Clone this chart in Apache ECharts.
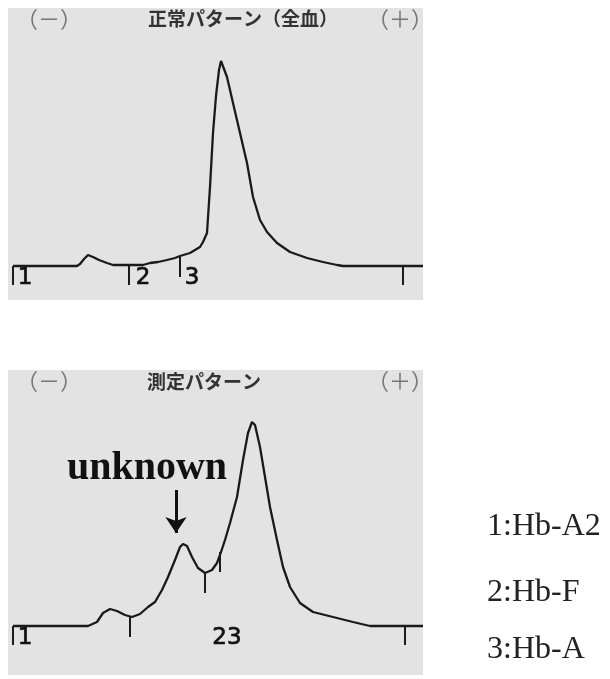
<!DOCTYPE html>
<html><head><meta charset="utf-8">
<script src="https://cdn.jsdelivr.net/npm/echarts@6/dist/echarts.min.js"></script>
<style>html,body{margin:0;padding:0;background:#fff}#c{width:610px;height:679px}</style>
</head><body><div id="c"></div>
<script>
// Normal pattern (whole blood): [position, signal]
var normalTrace = [[5,0],[69,0],[72,2],[76,7],[80,11],[85,9],[91,6],[99,3],[105,1],[112,1],[125,1],[135,1],[142,3],[150,4],[159,6],[167,8],[172,10],[182,13],[192,19],[195,24],[199,33],[202,79],[205,133],[208,170],[211,196],[213,205],[215,203],[219,189],[225,163],[232,133],[239,103],[245,69],[252,46],[259,34],[269,23],[282,14],[299,8],[315,4],[329,1],[335,0],[415,0]];
// Measured pattern: [position, signal]
var measuredTrace = [[5,0],[80,0],[89,4],[95,13],[102,17],[109,15],[117,11],[124,9],[132,12],[140,19],[147,24],[154,36],[160,49],[167,66],[172,79],[175,82],[179,80],[184,69],[190,58],[197,53],[204,56],[209,63],[212,71],[217,86],[222,103],[229,129],[235,166],[240,193],[244,204],[247,201],[252,179],[257,149],[262,119],[269,86],[275,59],[282,39],[292,23],[305,14],[325,9],[345,4],[362,0],[415,0]];
// Fraction boundary ticks: [position, from, to]
var normalTicks = [[5,0,-19],[121,1,-19],[172,9,-11],[395,0,-19]];
var measuredTicks = [[5,0,-19],[122,9,-11],[197,53,33],[212,74,54],[397,0,-19]];
// Fraction numbers: [text, position, level]
var normalNums = [['1',17,-12],['2',135,-12],['3',184,-12]];
var measuredNums = [['1',17,-12],['23',219,-12]];
var normalTitle = '正常パターン（全血）';
var measuredTitle = '測定パターン';
var polarity = ['（－）','（＋）'];
var arrowFromTo = [[168,136],[168,93]];
var annotation = 'unknown';
var legendItems = ['1:Hb-A2','2:Hb-F','3:Hb-A'];

var chart = echarts.init(document.getElementById('c'));
var ink = '#1a1a1a';
var bg = '#e3e3e3';
function numSeries(nums, gi){
  return {type:'scatter', xAxisIndex:gi, yAxisIndex:gi, symbolSize:1, silent:true,
    itemStyle:{opacity:0},
    data: nums.map(function(n){return {value:[n[1],n[2]], name:n[0]};}),
    label:{show:true, position:'inside', formatter:'{b}', color:'#111', opacity:1,
      fontFamily:'DejaVu Sans', fontSize:23, textBorderColor:'#111', textBorderWidth:0.7}};
}
function tickSeries(t, gi){
  return {type:'lines', coordinateSystem:'cartesian2d', xAxisIndex:gi, yAxisIndex:gi, silent:true,
    lineStyle:{color:ink, width:2, opacity:1},
    data: t.map(function(k){return {coords:[[k[0],k[1]],[k[0],k[2]]]};})};
}
var legendGraphics = legendItems.map(function(s,i){
  return {type:'text', left:487, top:[511,577,634][i], style:{text:s, fill:'#222', font:'32px "Liberation Serif"'}};
});
chart.setOption({
  animation:false,
  grid:[
    {left:8, top:8, width:415, height:292, show:true, backgroundColor:bg, borderWidth:0},
    {left:8, top:370, width:415, height:305, show:true, backgroundColor:bg, borderWidth:0}
  ],
  xAxis:[
    {type:'value', gridIndex:0, min:0, max:415, show:false},
    {type:'value', gridIndex:1, min:0, max:415, show:false}
  ],
  yAxis:[
    {type:'value', gridIndex:0, min:-34, max:258, show:false},
    {type:'value', gridIndex:1, min:-49, max:256, show:false}
  ],
  graphic:[
    {type:'text', left:16, top:8, style:{text:polarity[0], fill:'#777', font:'22px "Noto Sans CJK JP"'}},
    {type:'text', left:367, top:8, style:{text:polarity[1], fill:'#777', font:'22px "Noto Sans CJK JP"'}},
    {type:'text', left:148, top:9, style:{text:normalTitle, fill:'#333', font:'bold 19px "Noto Sans CJK JP"'}},
    {type:'text', left:16, top:370, style:{text:polarity[0], fill:'#777', font:'22px "Noto Sans CJK JP"'}},
    {type:'text', left:367, top:370, style:{text:polarity[1], fill:'#777', font:'22px "Noto Sans CJK JP"'}},
    {type:'text', left:147, top:372, style:{text:measuredTitle, fill:'#333', font:'bold 19px "Noto Sans CJK JP"'}},
    {type:'text', left:67, top:449, style:{text:annotation, fill:'#111', font:'bold 40px "Liberation Serif"'}}
  ].concat(legendGraphics),
  series:[
    {type:'line', xAxisIndex:0, yAxisIndex:0, data:normalTrace, symbol:'none', silent:true,
      lineStyle:{color:ink, width:2.3}},
    {type:'line', xAxisIndex:1, yAxisIndex:1, data:measuredTrace, symbol:'none', silent:true,
      lineStyle:{color:ink, width:2.3},
      markLine:{silent:true, symbol:['none','arrow'], symbolSize:16,
        label:{show:false}, lineStyle:{color:'#111', width:3, type:'solid'},
        emphasis:{disabled:true},
        data:[[{coord:arrowFromTo[0]},{coord:arrowFromTo[1]}]]}},
    tickSeries(normalTicks,0),
    tickSeries(measuredTicks,1),
    numSeries(normalNums,0),
    numSeries(measuredNums,1)
  ]
});
</script></body></html>
